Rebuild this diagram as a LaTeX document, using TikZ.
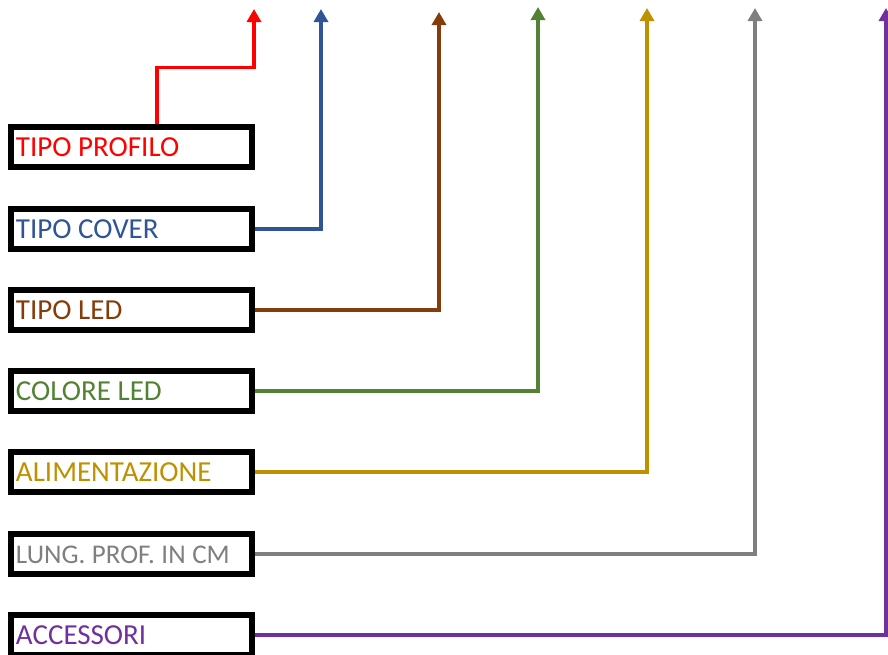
\documentclass[tikz,border=0pt]{standalone}
\usepackage{fontspec}
\setmainfont{Carlito}
\usetikzlibrary{arrows.meta}

\definecolor{blu}{HTML}{2F5597}
\definecolor{marrone}{HTML}{843C0C}
\definecolor{verde}{HTML}{548235}
\definecolor{oro}{HTML}{BF9000}
\definecolor{grigio}{HTML}{7F7F7F}
\definecolor{viola}{HTML}{7030A0}

\begin{document}
\frenchspacing
\begin{tikzpicture}[x=1pt,y=-1pt,
	voce/.style={draw=black,line width=5.5pt,minimum height=40pt,text width=231pt,
		inner xsep=5pt,inner ysep=0pt,align=left,font=\fontsize{29}{32}\selectfont,
		text height=18.7pt,text depth=0pt,execute at begin node={\spaceskip=6.6pt\relax}},
	freccia/.style={line width=3.5pt,-{Triangle[width=14pt,length=13pt]}}]
	\useasboundingbox (0,0) rectangle (888,654);
	% caselle
	\node[voce,text=red] (profilo) at (131.5,147) {TIPO PROFILO};
	\node[voce,text=blu] (cover) at (131.5,229) {TIPO COVER};
	\node[voce,text=marrone] (led) at (131.5,310) {TIPO LED};
	\node[voce,text=verde] (colore) at (131.5,391) {COLORE LED};
	\node[voce,text=oro] (alim) at (131.5,472) {ALIMENTAZIONE};
	\node[voce,text=grigio,font=\fontsize{27}{30}\selectfont] (lung) at (131.5,554) {LUNG. PROF. IN CM};
	\node[voce,text=viola] (acc) at (131.5,635) {ACCESSORI};
	% punte delle frecce
	\coordinate (p1) at (254,9);
	\coordinate (p2) at (321,9);
	\coordinate (p3) at (439,12);
	\coordinate (p4) at (538,7);
	\coordinate (p5) at (647,8);
	\coordinate (p6) at (755,8);
	\coordinate (p7) at (886,8);
	% frecce
	\draw[freccia,red] ([xshift=25.5pt]profilo.north) -- ++(0,-57) -| (p1);
	\draw[freccia,blu] (cover.east) -| (p2);
	\draw[freccia,marrone] (led.east) -| (p3);
	\draw[freccia,verde] (colore.east) -| (p4);
	\draw[freccia,oro] (alim.east) -| (p5);
	\draw[freccia,grigio] (lung.east) -| (p6);
	\draw[freccia,viola] (acc.east) -| (p7);
\end{tikzpicture}
\end{document}
